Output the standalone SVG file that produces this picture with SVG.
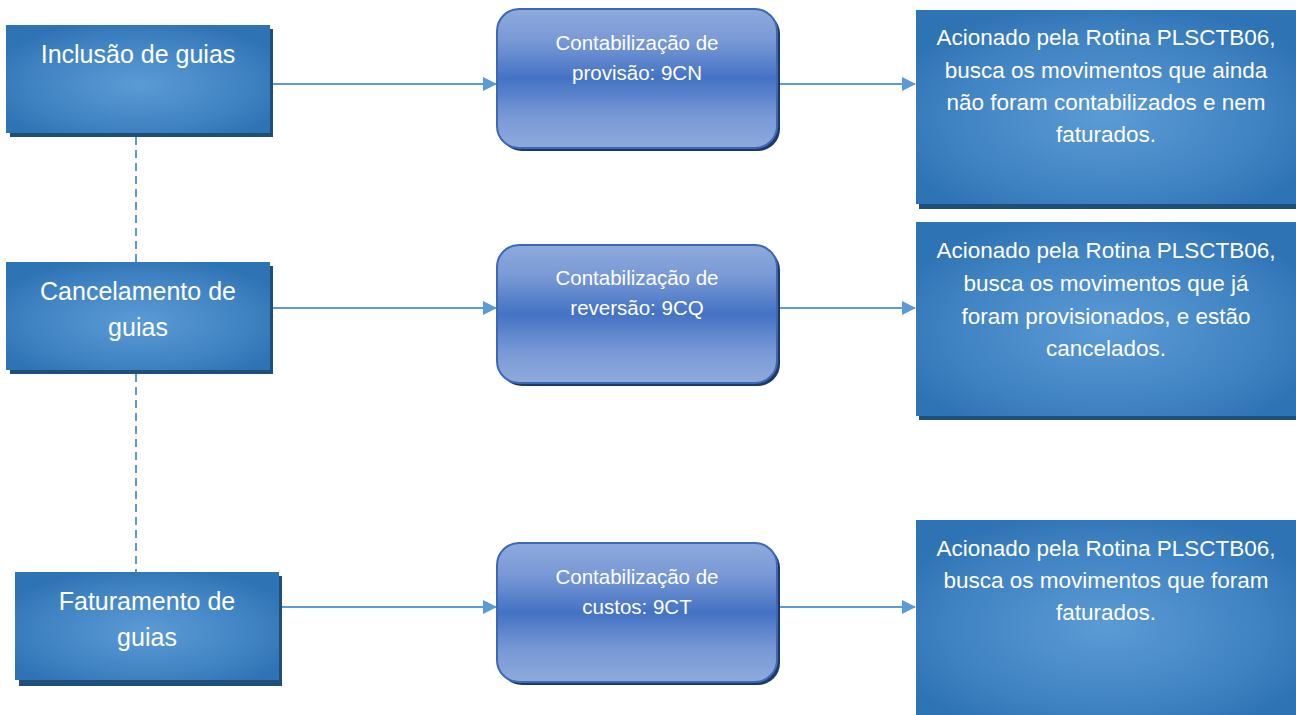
<svg xmlns="http://www.w3.org/2000/svg" width="1296" height="715" viewBox="0 0 1296 715">
<defs>
<radialGradient id="sq" cx="0.5" cy="0.55" r="0.6">
<stop offset="0" stop-color="#5b9bd5"/>
<stop offset="0.7" stop-color="#3f82c2"/>
<stop offset="1" stop-color="#2e73b4"/>
</radialGradient>
<linearGradient id="rd" x1="0" y1="0" x2="0" y2="1">
<stop offset="0" stop-color="#8eaadc"/>
<stop offset="0.22" stop-color="#7a9ad6"/>
<stop offset="0.5" stop-color="#4472c4"/>
<stop offset="0.78" stop-color="#7a9ad6"/>
<stop offset="1" stop-color="#8eaadc"/>
</linearGradient>
<marker id="ah" markerWidth="14" markerHeight="14" refX="13" refY="7" orient="auto" markerUnits="userSpaceOnUse">
<path d="M0,0 L14,7 L0,14 Z" fill="#5b9bd5"/>
</marker>
</defs>
<style>
.sh{fill:#1f4e79}
.sq{fill:url(#sq)}
.rd{fill:url(#rd);stroke:#3b68b8;stroke-width:2}
.rs{fill:#203864}
.t{font-family:"Liberation Sans",Arial,sans-serif;fill:#fff;text-anchor:middle}
.tl{font-size:25px}
.tm{font-size:20.5px}
.tr{font-size:22.5px}
.c{stroke:#5b9bd5;stroke-width:2;fill:none}
.d{stroke:#5b9bd5;stroke-width:2;fill:none;stroke-dasharray:8,5}
</style>
<g id="connectors">
<line class="d" x1="136" y1="137" x2="136" y2="262"/>
<line class="d" x1="136" y1="374" x2="136" y2="572"/>
<line class="c" x1="272" y1="84" x2="496" y2="84" marker-end="url(#ah)"/>
<line class="c" x1="778" y1="84" x2="915" y2="84" marker-end="url(#ah)"/>
<line class="c" x1="272" y1="308" x2="496" y2="308" marker-end="url(#ah)"/>
<line class="c" x1="778" y1="308" x2="915" y2="308" marker-end="url(#ah)"/>
<line class="c" x1="281" y1="607" x2="496" y2="607" marker-end="url(#ah)"/>
<line class="c" x1="778" y1="607" x2="915" y2="607" marker-end="url(#ah)"/>
</g>
<g id="inclusao">
<rect class="sh" x="10" y="29" width="263" height="108"/>
<rect class="sq" x="6" y="25" width="264" height="108"/>
<text class="t tl" x="138" y="63">Inclusão de guias</text>
</g>
<g id="cancelamento">
<rect class="sh" x="10" y="266" width="263" height="108"/>
<rect class="sq" x="6" y="262" width="264" height="108"/>
<text class="t tl" x="138" y="300">Cancelamento de</text>
<text class="t tl" x="138" y="336">guias</text>
</g>
<g id="faturamento">
<rect class="sh" x="19" y="576" width="263" height="110"/>
<rect class="sq" x="15" y="572" width="264" height="108"/>
<text class="t tl" x="147" y="610">Faturamento de</text>
<text class="t tl" x="147" y="646">guias</text>
</g>
<g id="provisao">
<rect class="rs" x="500" y="12" width="280" height="139" rx="22"/>
<rect class="rd" x="497" y="9" width="280" height="139" rx="22"/>
<text class="t tm" x="637" y="50">Contabilização de</text>
<text class="t tm" x="637" y="80">provisão: 9CN</text>
</g>
<g id="reversao">
<rect class="rs" x="500" y="248" width="280" height="138" rx="22"/>
<rect class="rd" x="497" y="245" width="280" height="138" rx="22"/>
<text class="t tm" x="637" y="285">Contabilização de</text>
<text class="t tm" x="637" y="315">reversão: 9CQ</text>
</g>
<g id="custos">
<rect class="rs" x="500" y="546" width="280" height="139" rx="22"/>
<rect class="rd" x="497" y="543" width="280" height="139" rx="22"/>
<text class="t tm" x="637" y="584">Contabilização de</text>
<text class="t tm" x="637" y="614">custos: 9CT</text>
</g>
<g id="desc-provisao">
<rect class="sh" x="919" y="13" width="377" height="196"/>
<rect class="sq" x="916" y="10" width="380" height="194"/>
<text class="t tr" x="1106" y="45">Acionado pela Rotina PLSCTB06,</text>
<text class="t tr" x="1106" y="78">busca os movimentos que ainda</text>
<text class="t tr" x="1106" y="110">não foram contabilizados e nem</text>
<text class="t tr" x="1106" y="142">faturados.</text>
</g>
<g id="desc-reversao">
<rect class="sh" x="919" y="225" width="377" height="195"/>
<rect class="sq" x="916" y="222" width="380" height="194"/>
<text class="t tr" x="1106" y="258">Acionado pela Rotina PLSCTB06,</text>
<text class="t tr" x="1106" y="291">busca os movimentos que já</text>
<text class="t tr" x="1106" y="324">foram provisionados, e estão</text>
<text class="t tr" x="1106" y="356">cancelados.</text>
</g>
<g id="desc-custos">
<rect class="sq" x="916" y="520" width="380" height="195"/>
<text class="t tr" x="1106" y="556">Acionado pela Rotina PLSCTB06,</text>
<text class="t tr" x="1106" y="588">busca os movimentos que foram</text>
<text class="t tr" x="1106" y="620">faturados.</text>
</g>
</svg>
